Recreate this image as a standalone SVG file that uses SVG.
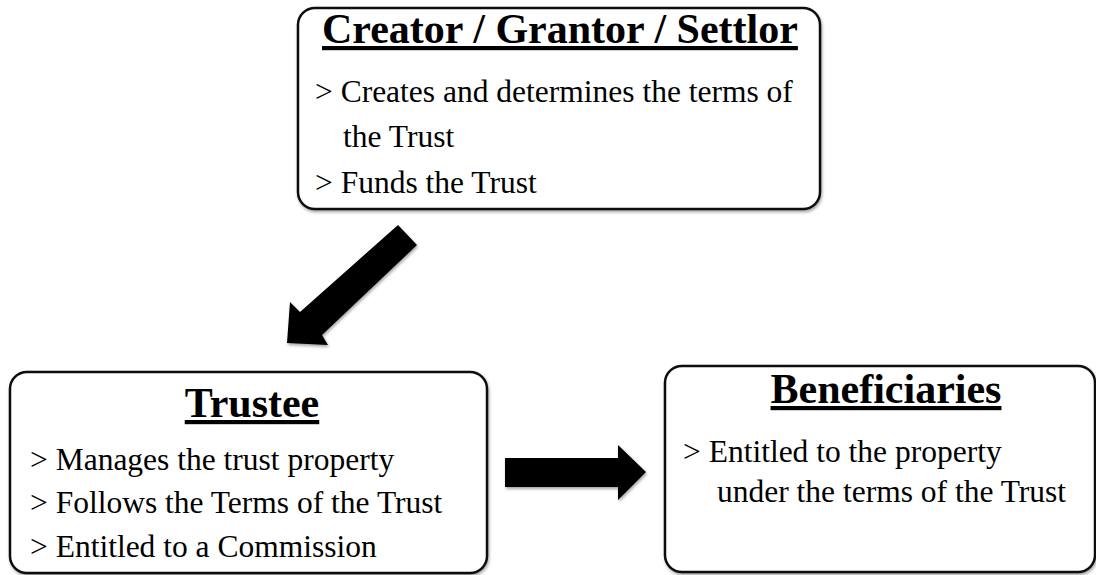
<svg xmlns="http://www.w3.org/2000/svg" width="1096" height="575" viewBox="0 0 1096 575">
  <defs>
    <filter id="sh" x="-5%" y="-5%" width="110%" height="115%">
      <feDropShadow dx="1" dy="2" stdDeviation="1.5" flood-color="#000" flood-opacity="0.35"/>
    </filter>
    <style>
      .box { fill: #fff; stroke: #111; stroke-width: 2.5; filter: url(#sh); }
      .title { font-family: "Liberation Serif", "Times New Roman", serif; font-weight: bold; font-size: 42px; text-decoration: underline; fill: #000; }
      .body { font-family: "Liberation Serif", "Times New Roman", serif; font-size: 31.5px; fill: #000; }
      .arrow { fill: #000; filter: url(#sh); }
    </style>
  </defs>
  <rect width="1096" height="575" fill="#fff"/>

  <g id="creator">
    <rect class="box" x="298" y="8" width="522" height="201" rx="17"/>
    <text class="title" x="322" y="43">Creator / Grantor / Settlor</text>
    <text class="body" x="315" y="102">&gt; Creates and determines the terms of</text>
    <text class="body" x="343" y="147">the Trust</text>
    <text class="body" x="315" y="193">&gt; Funds the Trust</text>
  </g>

  <g id="trustee">
    <rect class="box" x="10" y="372" width="477" height="201" rx="17"/>
    <text class="title" x="252" y="417" text-anchor="middle">Trustee</text>
    <text class="body" x="30" y="470">&gt; Manages the trust property</text>
    <text class="body" x="30" y="513">&gt; Follows the Terms of the Trust</text>
    <text class="body" x="30" y="557">&gt; Entitled to a Commission</text>
  </g>

  <g id="beneficiaries">
    <rect class="box" x="665" y="366" width="430" height="206" rx="17"/>
    <text class="title" x="886" y="403" text-anchor="middle">Beneficiaries</text>
    <text class="body" x="683" y="462">&gt; Entitled to the property</text>
    <text class="body" x="717" y="502">under the terms of the Trust</text>
  </g>

  <g id="connectors">
    <polygon class="arrow" points="398,225 417,245 322,335 328,345 287,343 290,302 300,312"/>
    <polygon class="arrow" points="505,458 618,458 618,445 646,472 618,500 618,487 505,487"/>
  </g>
</svg>
